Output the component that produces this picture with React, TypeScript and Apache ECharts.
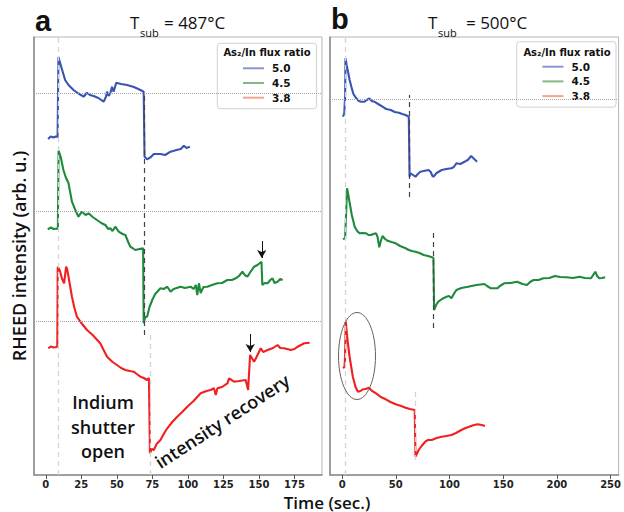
import React, { useEffect, useRef } from "react";
import * as echarts from "echarts";

// ---------- data (time in s, RHEED intensity in arbitrary units) ----------
const fluxRatios = ["5.0", "4.5", "3.8"];
const ticksA = [0, 25, 50, 75, 100, 125, 150, 175];
const ticksB = [0, 50, 100, 150, 200, 250];

// Panel a: T_sub = 487 °C
const blueA = [[1.6,336],[3.5,338.5],[5.5,337.5],[7.0,338.5],[8.3,338],[8.9,418],[10.5,410],[13.6,395],[16,390],[19.5,385],[23,381.5],[26.6,378.3],[29,382.3],[31,380],[33.6,379],[37,377],[40.7,373.3],[42.3,378],[43.1,383.3],[44.2,379],[45.4,381.7],[46.6,388.3],[47.7,383.3],[49.6,392.3],[53,391],[57.2,390],[62,388],[66.6,385],[68.9,383.3],[69.5,318.3],[71.3,315.7],[74,318],[76.0,321],[80.7,321],[84,320],[87.8,323.3],[92,325],[95,326],[97.2,329.3],[99,327],[101.4,328.3]];
const greenA = [[1.4,245.7],[3.5,247.5],[5.5,246],[7.8,246.5],[8.5,246],[9.0,324.3],[10.5,318],[12.4,305],[14,298],[16.0,291.7],[18.4,273.3],[20.5,266],[23.0,258.3],[25.4,263.3],[28,260],[30.1,261.7],[33,258],[36.0,255],[39,252],[41.9,250],[44,246],[45.4,246.7],[47,244],[48.9,248.3],[51.3,243.3],[54,241],[56.0,240],[58,233],[59.5,228.3],[61,227],[63.0,225],[66,226],[68.5,226.7],[68.9,151.7],[70,158],[71.3,158.3],[73,168],[74.9,175],[77,181],[80.7,186.7],[83,186],[85.5,188.3],[87.8,183.3],[90,186],[94.8,188.3],[98,187],[101.9,188.3],[104,186],[105.6,190],[106.6,180],[107.8,191.7],[109,182],[111,188],[113.7,188.3],[117,190],[120.8,191.7],[124,192],[127.8,195],[131,195],[133.7,196.7],[136,199],[138.4,203.3],[140,200],[141.9,198.3],[144,203],[146.6,208.3],[149,210],[151.8,213.3],[152.4,190],[154,192],[156.1,191.7],[158,195],[159.6,196.7],[161,192],[163.1,193.3],[165,196],[166.7,195]];
const redA = [[1.8,126.7],[3.5,128.5],[5.5,127.5],[7.8,128],[8.1,130],[8.4,208.3],[10,204],[11.3,196.7],[12.9,191.7],[14.3,208.3],[15,206],[16.0,198.3],[18.4,178.3],[20,168],[21.9,158.3],[25,152],[29.0,145],[33,140],[38.3,131.7],[43.1,118.3],[47,113],[50.1,110],[53,107],[56.0,105],[59,104],[61.9,103.3],[64,101],[66.6,98.3],[69,97],[71.3,95],[72.6,97],[73.3,21.7],[74.5,26],[76.0,25],[78,31],[80.7,35],[83,41],[85.5,46.7],[89,53],[92.5,58.3],[96,63],[99.6,68.3],[104,74],[109.0,81.7],[113,84],[116,85],[118.4,86.7],[119.6,80],[120.8,86.7],[124,88],[127.8,91.7],[129.0,96.7],[132.5,93.3],[136,94],[140.7,95],[142.4,85],[143.8,120],[146.6,113.3],[148,117],[151.3,126.7],[153,123],[156.1,125],[160,127],[163.1,130],[165,127],[167.8,126.7],[172.5,125],[175,126],[177.3,128.3],[179.6,130],[181.9,131.7],[185.7,132.3]];

// Panel b: T_sub = 500 °C
const blueB = [[0.9,358.3],[2.0,362],[2.8,380],[3.1,416.7],[4.2,410],[5.5,403.3],[7,395],[8.6,388.3],[10.5,381],[13.2,376.7],[15.5,374],[17.8,373.3],[20.8,373.3],[23,375],[25.4,376.7],[27.5,374],[30.0,373.3],[33.5,371],[37.6,368.3],[41,366],[45.3,365],[49,363],[52.9,362.3],[56,361],[59.1,360],[62.1,358.3],[62.8,298.3],[63.7,301.7],[66,300],[68.3,298.3],[70.5,301],[72.8,303.3],[76,304],[80.5,305],[82.5,303],[84.1,299],[85.0,298.3],[88,302],[92.7,305],[97,306],[101.8,306.7],[104,308],[106.4,311.7],[110,311],[114.1,313.3],[117,315],[120.2,319],[123,316],[125.7,313.3]];
const greenB = [[0.9,235.7],[2.0,236.5],[2.8,236.7],[4.6,286.7],[5.8,280],[7.1,271.7],[9,260],[11.7,248.3],[14,244],[16.2,241.7],[19,242],[22.4,241.7],[24.5,240],[27.0,240],[29,241],[31.6,241.7],[33,238],[34.6,227.7],[36,234],[37.6,239],[40,236],[42.2,234.3],[46,233],[49.9,231.7],[54,229],[59.1,226.7],[62.1,225],[65,224],[68.3,223.3],[72,222],[75.9,220],[80,219],[85.0,217.3],[85.7,165],[87.5,170],[89.6,173.3],[93,176],[97.2,178.3],[99.5,179],[101.8,176.7],[104,181],[106.4,185],[111,187],[117.2,188.3],[125,190],[132.5,191],[135,189],[138.5,186.7],[144.7,186.7],[147,189],[150.8,191.7],[157,192],[163.0,193.3],[168,191],[172.2,190],[175,193],[178.3,195],[183,195],[187.5,196.7],[193,197],[198.2,199],[203,198],[208.9,197.7],[215,197],[221.1,198.3],[226,197],[231.8,196.7],[235.8,203.3],[237.5,199],[239.4,196.7],[242,197],[245.0,197.7]];
const redB = [[0.9,106.7],[2.2,108.3],[2.6,115],[3.4,153.3],[5,135],[7,118],[10,98],[12.5,88],[14.7,83.3],[17,84],[19.3,85.7],[22,86],[24.8,87.3],[28,84],[31.6,81.7],[36,78],[40.7,75.7],[45,73],[49.9,70.7],[55,69],[59.1,67.3],[63,66],[67.6,65],[68.3,18.3],[70,22],[71.3,25],[74,29],[77.4,33.3],[80,35],[83.5,35],[88,37],[92.7,38.3],[97,39],[101.8,40],[106,42],[111.0,45],[115,47],[120.2,49],[123,50],[126.3,50.7],[130,50],[133.0,49]];

// reference levels & markers: [time, yFrom, yTo]
const levelsA = [382, 264, 154];
const levelsB = [376];
const guidesA = [[8.5, 0, 438], [73.3, 0, 140]];
const dropsA = [[69.2, 140, 382]];
const guidesB = [[3.1, 0, 438], [68.2, 15, 87]];
const dropsB = [[62.7, 278, 380], [85.3, 147, 243]];
const arrowsA = [[152.0, 234, 217], [143.9, 141, 123]];

const traceColors = ["#3a54b4", "#1f8a3c", "#f02020"];
const legendColors = ["#8a96d2", "#84b884", "#f6a48e"];

const FONT_TXT = "'Open Sans', 'Noto Sans', sans-serif";

function makeLegend(left: number, top: number) {
  return {
    left, top, orient: "vertical", icon: "rect",
    itemWidth: 21, itemHeight: 2, itemGap: 1.7,
    padding: [18.5, 26, 4.5, 25.7],
    backgroundColor: "#fff", borderColor: "#d0d0d0", borderWidth: 1, borderRadius: 3,
    selectedMode: false,
    textStyle: { fontFamily: "DejaVu Sans", fontWeight: "bold", fontSize: 10.5, color: "#111", lineHeight: 13, padding: [0, 0, 0, 3] },
    data: fluxRatios.map((n, i) => ({ name: n, itemStyle: { color: legendColors[i] } })),
  };
}

function xAxis(idx: number, min: number, max: number, ticks: number[]) {
  return {
    type: "value", gridIndex: idx, min, max,
    axisLine: { show: true, onZero: false, lineStyle: { color: "#8a8a8a", width: 1.5 } },
    axisTick: { show: true, customValues: ticks, length: 4, lineStyle: { color: "#555" } },
    axisLabel: { customValues: ticks, fontFamily: "DejaVu Sans", fontWeight: "bold", fontSize: 10, color: "#222", margin: 4 },
    splitLine: { show: false },
  };
}
function yAxis(idx: number) {
  return {
    type: "value", gridIndex: idx, min: 0, max: 438,
    axisLine: { show: true, onZero: false, lineStyle: { color: "#8a8a8a", width: 1.5 } },
    axisTick: { show: false }, axisLabel: { show: false }, splitLine: { show: false },
  };
}

function traces(idx: number, sets: number[][][]) {
  return sets.map((d, i) => ({
    type: "line", name: fluxRatios[i], xAxisIndex: idx, yAxisIndex: idx,
    data: d, showSymbol: false, symbol: "none", silent: true,
    lineStyle: { color: traceColors[i], width: 2.1 }, itemStyle: { color: traceColors[i] },
    z: 3,
  }));
}

function helper(idx: number, levels: number[], guides: number[][], drops: number[][], arrows: number[][]) {
  const vline = (g: number[], color: string, w: number) => [
    { coord: [g[0], g[1]], lineStyle: { color, type: [5, 4], width: w } },
    { coord: [g[0], g[2]] },
  ];
  return {
    type: "line", name: "helper" + idx, xAxisIndex: idx, yAxisIndex: idx, data: [], silent: true, z: 2,
    markLine: {
      silent: true, symbol: ["none", "none"], label: { show: false }, animation: false,
      data: [
        ...levels.map((v) => ({ yAxis: v, lineStyle: { color: "#a5a5a5", type: "dotted", width: 1 } })),
        ...guides.map((g) => vline(g, "#d4d4d4", 1.3)),
        ...drops.map((g) => vline(g, "#444", 1.2)),
        ...arrows.map((a) => [
          { coord: [a[0], a[1]], symbol: "none", lineStyle: { color: "#111", type: "solid", width: 1 } },
          { coord: [a[0], a[2]], symbol: "arrow", symbolSize: [7, 8] },
        ]),
      ],
    },
  };
}

function txt(x: number, y: number, text: string, font: string, align = "left", extra: any = {}) {
  return {
    type: "text", x, y, z: 100, ...extra,
    style: { text, font, fill: "#111", textAlign: align, textVerticalAlign: "middle", align, verticalAlign: "middle" },
  };
}

export default function App() {
  const ref = useRef<HTMLDivElement>(null);
  useEffect(() => {
    if (!ref.current) return;
    const chart = echarts.init(ref.current, undefined, { renderer: "svg" });
    chart.setOption({
      animation: false,
      backgroundColor: "#fff",
      grid: [
        { left: 34, top: 37, width: 288, height: 438, show: true, borderColor: "#b5b5b5", borderWidth: 1 },
        { left: 330, top: 37, width: 293, height: 438, show: true, borderColor: "#b5b5b5", borderWidth: 1 },
      ],
      xAxis: [xAxis(0, -8.3, 194.4, ticksA), xAxis(1, -11.3, 257.5, ticksB)],
      yAxis: [yAxis(0), yAxis(1)],
      legend: [makeLegend(217.3, 43.3), makeLegend(516.7, 41.7)],
      series: [
        helper(0, levelsA, guidesA, dropsA, arrowsA),
        helper(1, levelsB, guidesB, dropsB, []),
        ...traces(0, [blueA, greenA, redA]),
        ...traces(1, [blueB, greenB, redB]),
      ],
      graphic: [
        txt(35, 21, "a", "bold 29px 'Liberation Sans', Arial, sans-serif"),
        txt(331, 19, "b", "bold 29px 'Liberation Sans', Arial, sans-serif"),
        txt(130, 22.5, "T", `17px ${FONT_TXT}`),
        txt(140, 32, "sub", `11px ${FONT_TXT}`),
        txt(164, 22.5, "= 487°C", `17px ${FONT_TXT}`),
        txt(428, 22.5, "T", `17px ${FONT_TXT}`),
        txt(438, 32, "sub", `11px ${FONT_TXT}`),
        txt(466, 22.5, "= 500°C", `17px ${FONT_TXT}`),
        txt(267, 52, "As₂/In flux ratio", "bold 10px 'DejaVu Sans', sans-serif", "center"),
        txt(567, 52, "As₂/In flux ratio", "bold 10px 'DejaVu Sans', sans-serif", "center"),
        txt(19, 256, "RHEED intensity (arb. u.)", `600 18px ${FONT_TXT}`, "center", { rotation: Math.PI / 2 }),
        txt(327, 502, "Time (sec.)", `600 17px ${FONT_TXT}`, "center"),
        txt(103, 402, "Indium", `600 18px ${FONT_TXT}`, "center"),
        txt(103, 427, "shutter", `600 18px ${FONT_TXT}`, "center"),
        txt(103, 451, "open", `600 18px ${FONT_TXT}`, "center"),
        txt(222, 421, "intensity recovery", `600 18px ${FONT_TXT}`, "center", { rotation: (33 * Math.PI) / 180 }),
        {
          type: "ellipse", z: 100,
          shape: { cx: 357, cy: 356, rx: 18.5, ry: 43.5 },
          style: { fill: "none", stroke: "#6e5e55", lineWidth: 1 },
        },
      ],
    });
    return () => chart.dispose();
  }, []);
  return <div ref={ref} style={{ position: "fixed", left: 0, top: 0, width: 624, height: 512 }} />;
}
